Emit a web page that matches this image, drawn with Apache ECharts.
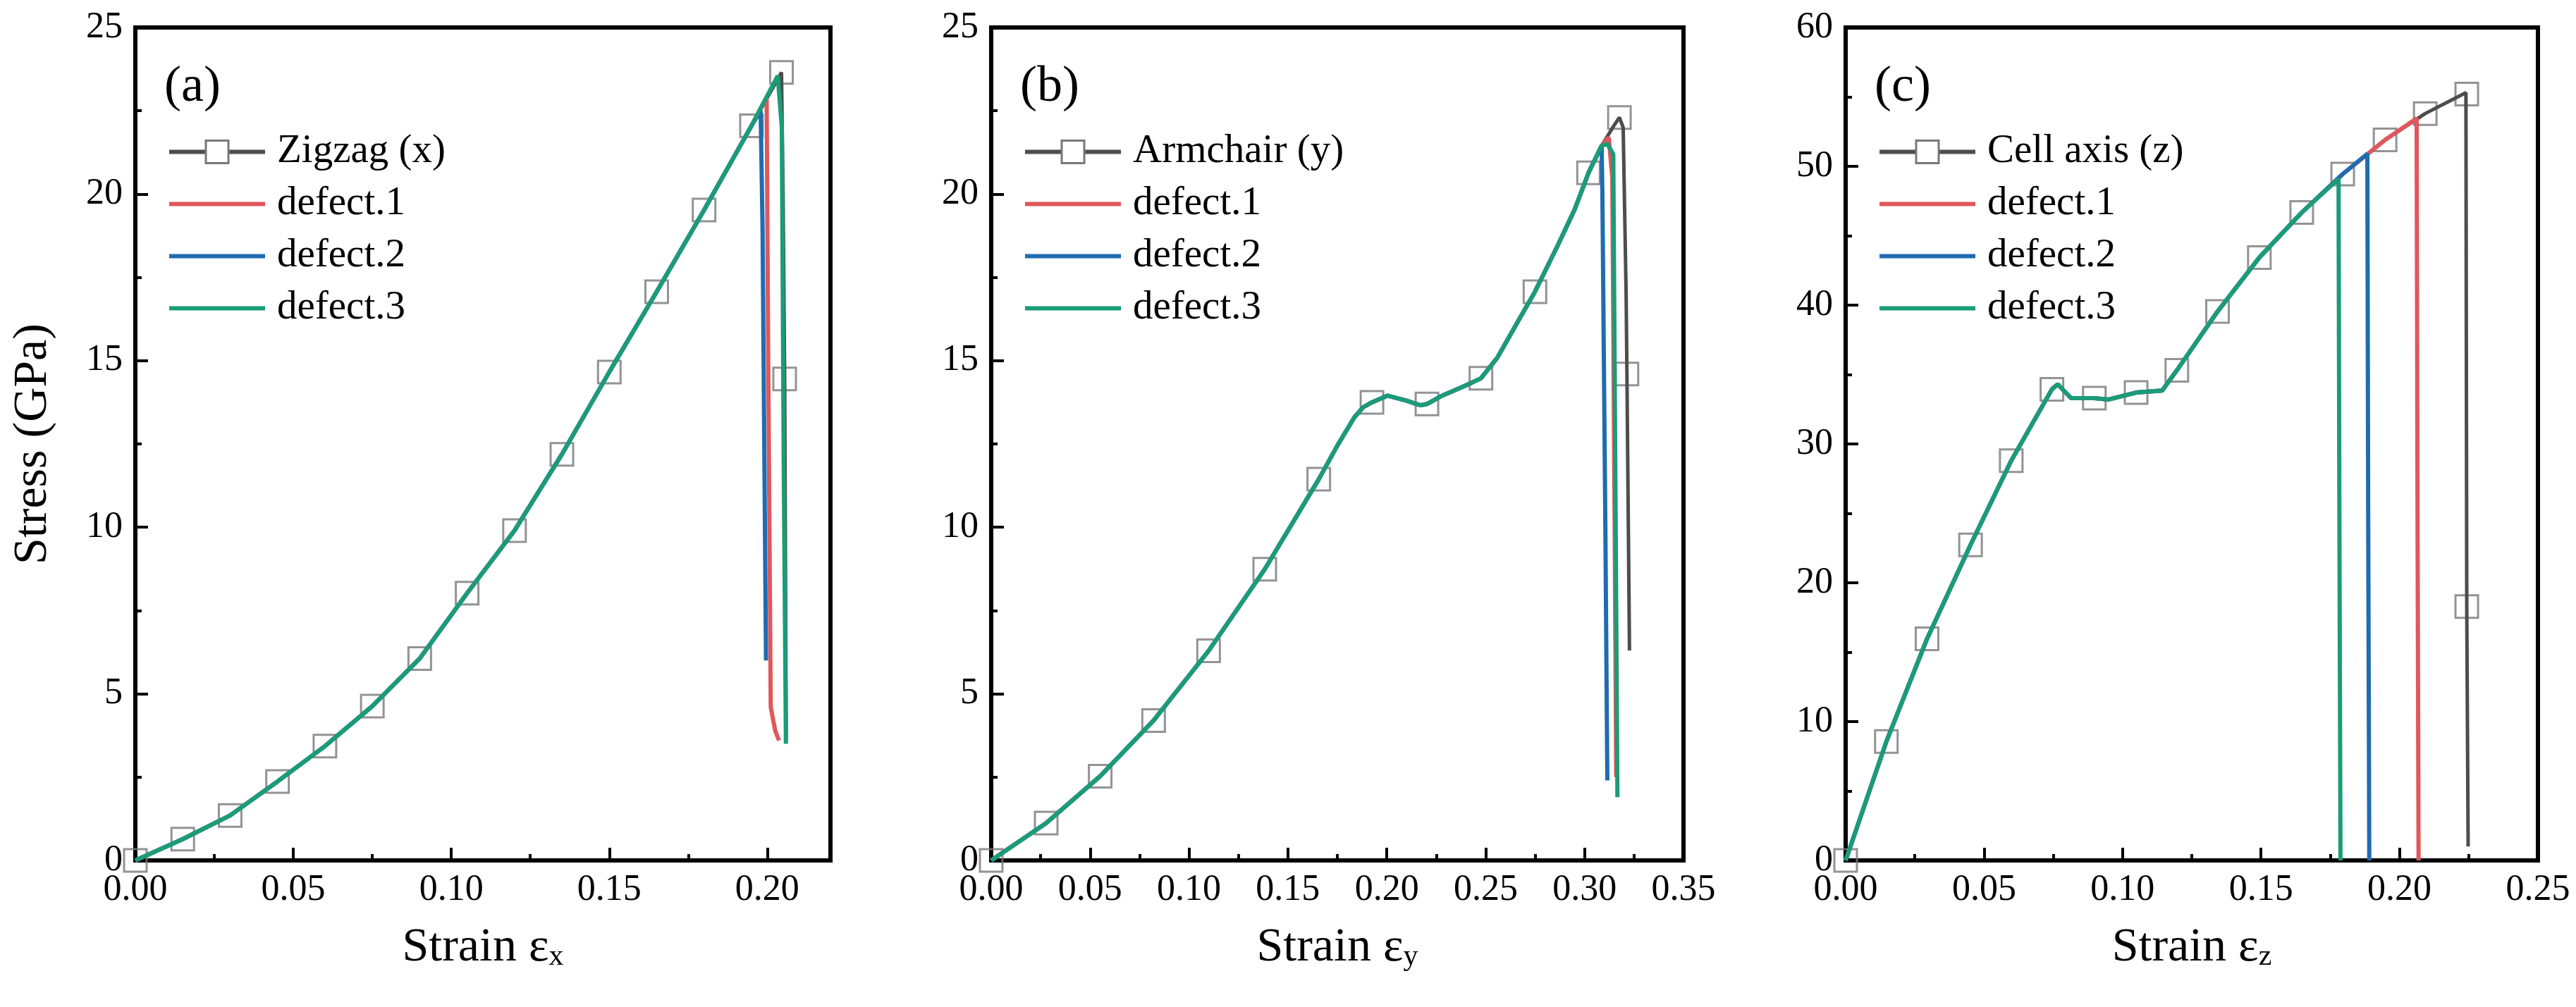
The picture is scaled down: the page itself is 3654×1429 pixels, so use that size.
<!DOCTYPE html>
<html>
<head>
<meta charset="utf-8">
<title>Stress-strain curves</title>
<script src="https://cdn.jsdelivr.net/npm/echarts@6/dist/echarts.min.js"></script>
<style>
html,body{margin:0;padding:0;background:#fff;}
#chart{width:3654px;height:1429px;}
</style>
</head>
<body>
<div id="chart"></div>
<script>
//面板(a) Zigzag - 公共上升段
var aRiseX = [0, 0.015, 0.030, 0.045, 0.060, 0.075, 0.090, 0.105, 0.120, 0.135, 0.150, 0.165, 0.180, 0.195];
var aRiseY = [0, 0.64, 1.35, 2.37, 3.43, 4.63, 6.06, 8.02, 9.90, 12.19, 14.66, 17.07, 19.52, 22.05];
var aZigTailX = [0.2045, 0.2050, 0.2055, 0.2060];
var aZigTailY = [23.65, 20.0, 14.45, 3.6];
var aD1TailX = [0.1998, 0.2003, 0.2011, 0.2025, 0.2037];
var aD1TailY = [22.9, 15.0, 4.6, 3.9, 3.6];
var aD2TailX = [0.1979, 0.1985, 0.1996];
var aD2TailY = [22.5, 19.0, 6.0];
var aD3TailX = [0.2033, 0.2046, 0.2052, 0.2059];
var aD3TailY = [23.55, 22.0, 12.0, 3.5];
var aMarkX = [0, 0.015, 0.030, 0.045, 0.060, 0.075, 0.090, 0.105, 0.120, 0.135, 0.150, 0.165, 0.180, 0.195, 0.2045, 0.2055];
var aMarkY = [0, 0.64, 1.35, 2.37, 3.43, 4.63, 6.06, 8.02, 9.90, 12.19, 14.66, 17.07, 19.52, 22.05, 23.65, 14.45];

//面板(b) Armchair
var bRiseX = [0, 0.0278, 0.0551, 0.0821, 0.1099, 0.1383, 0.1656, 0.175, 0.1836, 0.188, 0.1925, 0.2003, 0.21, 0.217, 0.2203, 0.228, 0.2393, 0.2476, 0.256, 0.2643, 0.2749, 0.2866, 0.295, 0.302];
var bRiseY = [0, 1.12, 2.53, 4.2, 6.29, 8.74, 11.44, 12.45, 13.3, 13.6, 13.75, 13.95, 13.8, 13.66, 13.7, 13.95, 14.24, 14.47, 15.1, 15.97, 17.07, 18.48, 19.54, 20.64];
var bZigTailX = [0.3086, 0.3151, 0.3176, 0.3195, 0.3210, 0.3214, 0.3227];
var bZigTailY = [21.45, 22.08, 22.3, 22.0, 17.0, 14.6, 6.3];
var bD1TailX = [0.3086, 0.3122, 0.3140, 0.3152, 0.3160];
var bD1TailY = [21.45, 21.7, 20.5, 10.0, 2.5];
var bD2TailX = [0.3086, 0.3090, 0.3105, 0.3115];
var bD2TailY = [21.45, 20.0, 10.0, 2.4];
var bD3TailX = [0.3086, 0.3115, 0.3145, 0.3155, 0.3166];
var bD3TailY = [21.45, 21.5, 21.2, 12.0, 1.9];
var bMarkX = [0, 0.0278, 0.0551, 0.0821, 0.1099, 0.1383, 0.1656, 0.1925, 0.2203, 0.2476, 0.2749, 0.302, 0.3176, 0.3214];
var bMarkY = [0, 1.12, 2.53, 4.2, 6.29, 8.74, 11.44, 13.75, 13.7, 14.47, 17.07, 20.64, 22.3, 14.6];

//面板(c) Cell axis
var cRiseX = [0, 0.0147, 0.0294, 0.0451, 0.0598, 0.0745, 0.0766, 0.0814, 0.0898, 0.095, 0.1049, 0.1143, 0.1196, 0.1343, 0.1494, 0.1647];
var cRiseY = [0, 8.56, 15.97, 22.73, 28.8, 33.94, 34.3, 33.3, 33.3, 33.2, 33.7, 33.84, 35.3, 39.54, 43.43, 46.67];
var cZigTailX = [0.1795, 0.1948, 0.2093, 0.2240, 0.2243, 0.2248];
var cZigTailY = [49.44, 51.9, 53.8, 55.3, 18.29, 1.0];
var cD1TailX = [0.1795, 0.1948, 0.2062, 0.2065, 0.2069];
var cD1TailY = [49.44, 51.9, 53.45, 26.0, 0];
var cD2TailX = [0.1795, 0.1884, 0.1887, 0.1891];
var cD2TailY = [49.44, 50.9, 25.0, 0];
var cD3TailX = [0.1780, 0.1783, 0.1787];
var cD3TailY = [49.1, 25.0, 0];
var cMarkX = [0, 0.0147, 0.0294, 0.0451, 0.0598, 0.0745, 0.0898, 0.1049, 0.1196, 0.1343, 0.1494, 0.1647, 0.1795, 0.1948, 0.2093, 0.2243, 0.2243];
var cMarkY = [0, 8.56, 15.97, 22.73, 28.8, 33.94, 33.3, 33.7, 35.3, 39.54, 43.43, 46.67, 49.44, 51.9, 53.8, 55.2, 18.29];

var xMaxList = [0.22, 0.35, 0.25];
var yMaxList = [25, 25, 60];
var yStepList = [5, 5, 10];
var zigNames = ['Zigzag (x)', 'Armchair (y)', 'Cell axis (z)'];
var panelTags = ['(a)', '(b)', '(c)'];
var subLetters = ['x', 'y', 'z'];

var FONT = '"Times New Roman", Times, "Liberation Serif", "DejaVu Serif", "Noto Serif", serif';
var C_ZIG = '#4d4d4d', C_D1 = '#e0575c', C_D2 = '#1f6cb0', C_D3 = '#1a9c78', C_MARK = '#787878';
var LINE_ICON = 'path://M0,0L136,0L136,6L0,6Z';
var gridLeft = [192, 1406, 2618];
var gridWidth = [986, 982, 982];

function mapArr(arr, fn){
	var out = [];
	for(var i = 0; i < arr.length; i++){ out.push(fn(arr[i], i)); }
	return out;
}
function pairs(xs, ys){
	return mapArr(xs, function(v, i){ return [v, ys[i]]; });
}

function lineOf(name, idx, xs, ys, color){
	return {
		type:'line',
		name:name,
		xAxisIndex:idx,
		yAxisIndex:idx,
		data:pairs(xs, ys),
		symbol:'none',
		showSymbol:false,
		lineStyle:{color:color, width:6},
		itemStyle:{color:color},
		emphasis:{disabled:true}
	};
}

function zigOf(name, idx, xs, ys){
	var s = lineOf(name, idx, xs, ys, C_ZIG);
	s.symbol = 'rect';
	s.symbolSize = 32;
	s.lineStyle.width = 5;
	s.itemStyle = {color:'#fff', borderColor:C_MARK, borderWidth:3};
	return s;
}

function markOf(name, idx, xs, ys){
	return {
		type:'scatter',
		name:name,
		xAxisIndex:idx,
		yAxisIndex:idx,
		data:pairs(xs, ys),
		symbol:'rect',
		symbolSize:32,
		itemStyle:{color:'rgba(255,255,255,0)', borderColor:C_MARK, borderWidth:3},
		emphasis:{disabled:true}
	};
}

var rise = [[aRiseX, aRiseY], [bRiseX, bRiseY], [cRiseX, cRiseY]];
var tails = [
	[[aZigTailX, aZigTailY], [aD1TailX, aD1TailY], [aD2TailX, aD2TailY], [aD3TailX, aD3TailY]],
	[[bZigTailX, bZigTailY], [bD1TailX, bD1TailY], [bD2TailX, bD2TailY], [bD3TailX, bD3TailY]],
	[[cZigTailX, cZigTailY], [cD1TailX, cD1TailY], [cD2TailX, cD2TailY], [cD3TailX, cD3TailY]]
];
var marks = [[aMarkX, aMarkY], [bMarkX, bMarkY], [cMarkX, cMarkY]];
var grids = [], xAxes = [], yAxes = [], series = [], legends = [], titles = [];

for(var i = 0; i < 3; i++){
	grids.push({left:gridLeft[i], top:39, width:gridWidth[i], height:1182, show:true, borderColor:'#000', borderWidth:6, backgroundColor:'transparent'});

	xAxes.push({
		type:'value', gridIndex:i, min:0, max:xMaxList[i], interval:0.05,
		name:'{m|Strain ε}{s|' + subLetters[i] + '}',
		nameLocation:'middle', nameGap:90,
		nameTextStyle:{
			color:'#000', fontFamily:FONT, fontSize:68,
			rich:{
				m:{color:'#000', fontFamily:FONT, fontSize:68, lineHeight:68, verticalAlign:'bottom'},
				s:{color:'#000', fontFamily:FONT, fontSize:42, lineHeight:18, verticalAlign:'bottom'}
			}
		},
		axisLine:{show:true, onZero:false, lineStyle:{color:'#000', width:6}},
		axisTick:{show:true, inside:true, length:18, lineStyle:{color:'#000', width:4}},
		minorTick:{show:true, splitNumber:2, length:9, lineStyle:{color:'#000', width:4}},
		splitLine:{show:false},
		minorSplitLine:{show:false},
		axisLabel:{
			color:'#000', fontFamily:FONT, fontSize:52, lineHeight:44, margin:20,
			showMaxLabel: i != 0,
			formatter:function(v){ return v.toFixed(2); }
		}
	});

	yAxes.push({
		type:'value', gridIndex:i, min:0, max:yMaxList[i], interval:yStepList[i],
		name: i == 0 ? 'Stress (GPa)' : '',
		nameLocation:'middle', nameGap:111,
		nameTextStyle:{color:'#000', fontFamily:FONT, fontSize:68},
		axisLine:{show:true, onZero:false, lineStyle:{color:'#000', width:6}},
		axisTick:{show:true, inside:true, length:18, lineStyle:{color:'#000', width:4}},
		minorTick:{show:true, splitNumber:2, length:9, lineStyle:{color:'#000', width:4}},
		splitLine:{show:false},
		minorSplitLine:{show:false},
		axisLabel:{color:'#000', fontFamily:FONT, fontSize:52, lineHeight:38, margin:18}
	});

	var r = rise[i], t = tails[i];
	series.push(zigOf(zigNames[i], i, r[0].concat(t[0][0]), r[1].concat(t[0][1])));
	series.push(markOf(zigNames[i], i, marks[i][0], marks[i][1]));
	series.push(lineOf('defect.1', i, r[0].concat(t[1][0]), r[1].concat(t[1][1]), C_D1));
	series.push(lineOf('defect.2', i, r[0].concat(t[2][0]), r[1].concat(t[2][1]), C_D2));
	series.push(lineOf('defect.3', i, r[0].concat(t[3][0]), r[1].concat(t[3][1]), C_D3));

	legends.push({
		left:gridLeft[i] + 45, top:187, orient:'vertical', padding:0,
		itemWidth:136, itemHeight:40, itemGap:17, selectedMode:false,
		data:[
			{name:zigNames[i], itemStyle:{color:'#fff', borderColor:C_MARK, borderWidth:3}},
			{name:'defect.1', icon:LINE_ICON, itemStyle:{color:C_D1, borderWidth:0}},
			{name:'defect.2', icon:LINE_ICON, itemStyle:{color:C_D2, borderWidth:0}},
			{name:'defect.3', icon:LINE_ICON, itemStyle:{color:C_D3, borderWidth:0}}
		],
		lineStyle:{width:6},
		textStyle:{color:'#000', fontFamily:FONT, fontSize:57, lineHeight:56, padding:[0, 0, 0, 12]}
	});

	titles.push({
		text:panelTags[i], left:gridLeft[i] + 41, top:88, padding:0,
		textStyle:{color:'#000', fontFamily:FONT, fontSize:72, fontWeight:'normal'}
	});
}

var chart = echarts.init(document.getElementById('chart'), null, {renderer:'canvas'});
chart.setOption({
	backgroundColor:'#fff',
	animation:false,
	title:titles,
	legend:legends,
	grid:grids,
	xAxis:xAxes,
	yAxis:yAxes,
	series:series
});
</script>
</body>
</html>
